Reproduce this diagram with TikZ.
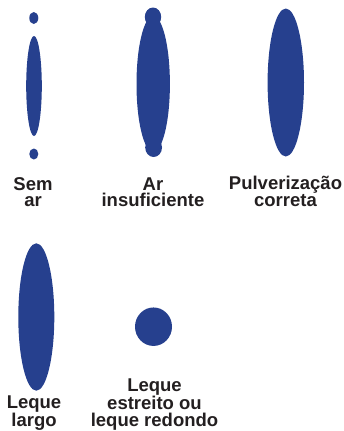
\documentclass[tikz,border=0pt]{standalone}
\usepackage{fontspec}
\setmainfont{Liberation Sans}
\usepackage{xcolor}
\usetikzlibrary{shapes.geometric}
\definecolor{spblue}{RGB}{38,64,142}
\definecolor{spink}{RGB}{35,31,32}
\tikzset{
  fan/.style args={#1/#2}{ellipse, fill=spblue, inner sep=0pt,
              minimum width=#1pt, minimum height=#2pt},
  lbl/.style={font=\fontsize{18.5}{15.5}\selectfont\bfseries, color=spink,
              align=center, inner sep=0pt, anchor=base},
}
\begin{document}
\begin{tikzpicture}[x=1pt, y=-1pt]
\useasboundingbox (0,0) rectangle (344,431);
% sem ar
\node[fan=9/12]   (semtop) at (33.8,18)  {};
\node[fan=15.6/100] (sem)  at (34,86)    {};
\node[fan=9/11]   (sembot) at (33.8,154) {};
% ar insuficiente
\node[fan=33.4/136] (ar)   at (153.2,84)  {};
\node[fan=16.4/19] (artop) at (153,17)    {};
\node[fan=16.8/19] (arbot) at (153.6,147.5) {};
% pulverizacao correta
\node[fan=36.4/148] (ok)   at (285.8,82.5) {};
% leque largo
\node[fan=36/147.4] (largo) at (36.3,317) {};
% leque redondo
\node[fan=37/38.5] (redondo) at (153.5,326.7) {};
% labels (base = last line)
\node[lbl] (lsem) at (33,206) {Sem\\ar};
\node[lbl] (lar) at (153,206) {Ar\\insuficiente};
\node[lbl] (lok) at (285.5,206) {Pulverização\\correta};
\node[lbl] (llargo) at (34,426.7) {Leque\\largo};
\node[lbl, font=\fontsize{18.5}{17.5}\selectfont\bfseries] (lredondo) at (154.5,426.7) {Leque\\estreito ou\\leque redondo};
\end{tikzpicture}
\end{document}
